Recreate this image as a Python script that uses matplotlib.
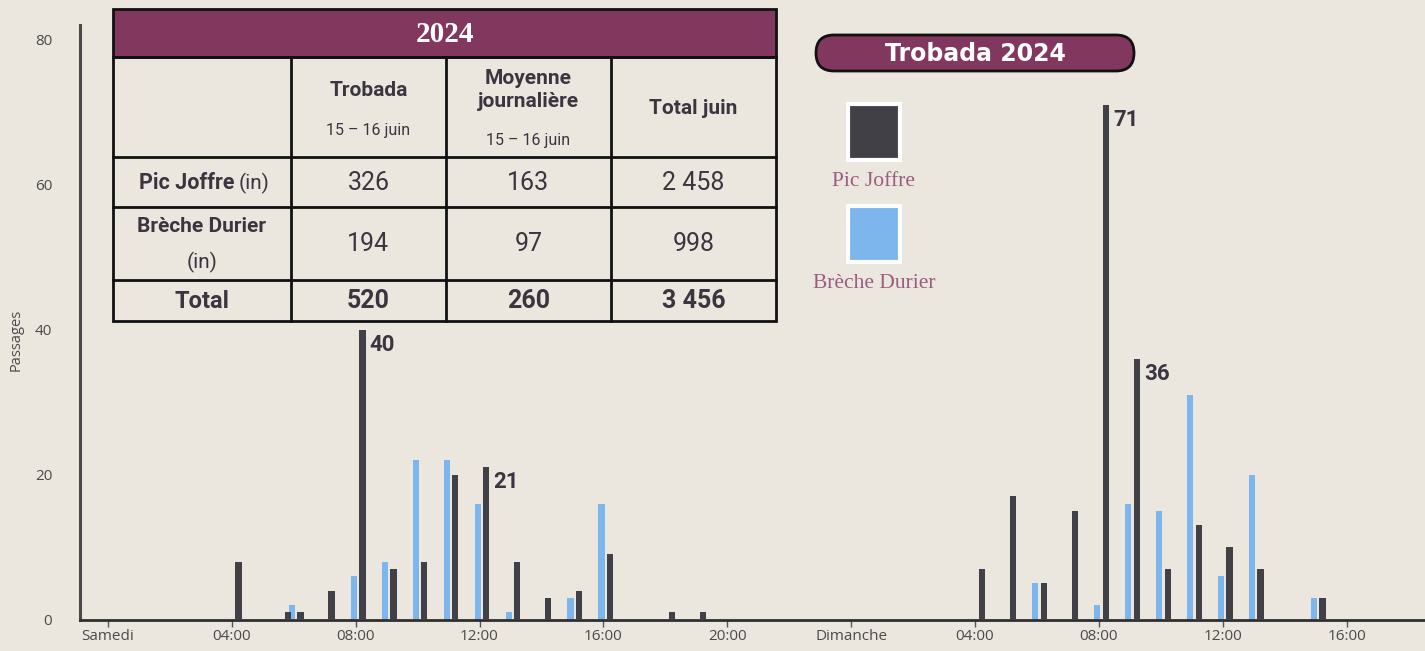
import matplotlib.pyplot as plt
from matplotlib.patches import Rectangle, FancyBboxPatch

# passages per hour, hours counted from Saturday 00:00
joffre_hours = [4, 5.6, 6, 7, 8, 9, 10, 11, 12, 13, 14, 15, 16, 18, 19,
                28, 29, 30, 31, 32, 33, 34, 35, 36, 37, 39]
joffre_values = [8, 1, 1, 4, 40, 7, 8, 20, 21, 8, 3, 4, 9, 1, 1,
                 7, 17, 5, 15, 71, 36, 7, 13, 10, 7, 3]
durier_hours = [6, 8, 9, 10, 11, 12, 13, 15, 16, 30, 32, 33, 34, 35, 36, 37, 39]
durier_values = [2, 6, 8, 22, 22, 16, 1, 3, 16, 5, 2, 16, 15, 31, 6, 20, 3]
peak_hours = [8, 12, 32, 33]

tick_hours = [0, 4, 8, 12, 16, 20, 24, 28, 32, 36, 40]
tick_labels = ["Samedi", "04:00", "08:00", "12:00", "16:00", "20:00",
               "Dimanche", "04:00", "08:00", "12:00", "16:00"]

table_title = "2024"
col_heads = ["Trobada", "Moyenne\njournalière", "Total juin"]
col_subs = ["15 – 16 juin", "15 – 16 juin", ""]
row_heads = ["Pic Joffre", "Brèche Durier", "Total"]
cells = [["326", "163", "2 458"],
         ["194", "97", "998"],
         ["520", "260", "3 456"]]

legend_title = "Trobada 2024"
series_names = ["Pic Joffre", "Brèche Durier"]

dark = "#414046"
blue = "#7db6ec"
plum = "#82375e"
paper = "#ebe7de"
ink = "#3b3540"

W, H = 1425, 651
fig = plt.figure(figsize=(W / 100, H / 100), dpi=100, facecolor=paper)

ax = fig.add_axes([80 / W, 31.5 / H, 1 - 80 / W, (619.5 - 25) / H])
ax.set_facecolor(paper)
ax.bar([h + 0.22 for h in joffre_hours], joffre_values, width=0.2, color=dark, zorder=3)
ax.bar([h - 0.06 for h in durier_hours], durier_values, width=0.2, color=blue, zorder=2)

for h, v in zip(joffre_hours, joffre_values):
    if h in peak_hours:
        ax.annotate(str(v), (h + 0.32, v), xytext=(3, -3), textcoords="offset points",
                    ha="left", va="top", fontsize=16, fontweight="bold",
                    family="Roboto", color=ink)

ax.set_xlim(-0.9, 42.53)
ax.set_ylim(0, 82)
ax.set_xticks(tick_hours)
ax.set_xticklabels(tick_labels)
ax.set_yticks([0, 20, 40, 60, 80])
ax.tick_params(axis="x", length=5, width=1, color="#555555", pad=2,
               labelsize=11, labelcolor="#4a4a4a")
ax.tick_params(axis="y", length=0, pad=20, labelsize=11, labelcolor="#4a4a4a")
for lab in ax.get_xticklabels() + ax.get_yticklabels():
    lab.set_family("Open Sans")
ax.set_ylabel("Passages", family="Open Sans", fontsize=10.5, color="#4a4a4a")
ax.yaxis.set_label_coords(-56 / (W - 80), (619.5 - 340) / (619.5 - 25))
for s in ["top", "right"]:
    ax.spines[s].set_visible(False)
ax.spines["left"].set_color("#4a4a4a")
ax.spines["left"].set_linewidth(2.2)
ax.spines["bottom"].set_color("#2f2f2f")
ax.spines["bottom"].set_linewidth(2)

# overlay in pixel coordinates for the table and the legend
ov = fig.add_axes([0, 0, 1, 1], zorder=5)
ov.set_xlim(0, W)
ov.set_ylim(H, 0)
ov.axis("off")

xs = [113, 291, 446, 611, 776]
ys = [9, 57, 157, 207, 280, 321]
ov.add_patch(Rectangle((xs[0], ys[0]), xs[-1] - xs[0], ys[1] - ys[0],
                       facecolor=plum, edgecolor="#111111", lw=2))
ov.add_patch(Rectangle((xs[0], ys[1]), xs[-1] - xs[0], ys[-1] - ys[1],
                       facecolor="none", edgecolor="#111111", lw=2))
for x in xs[1:-1]:
    ov.plot([x, x], [ys[1], ys[-1]], color="#111111", lw=2)
for y in ys[2:-1]:
    ov.plot([xs[0], xs[-1]], [y, y], color="#111111", lw=2)

ov.text((xs[0] + xs[-1]) / 2, 35, table_title, ha="center", va="center",
        fontsize=21, fontweight="bold", family="Liberation Serif", color="white")

head_y = [90, 90, 108]
sub_y = [131, 140, None]
for i, (name, sub) in enumerate(zip(col_heads, col_subs)):
    cx = (xs[i + 1] + xs[i + 2]) / 2
    ov.text(cx, head_y[i], name, ha="center", va="center", fontsize=15, fontweight="bold",
            family="Roboto", color=ink, linespacing=1.3)
    if sub:
        ov.text(cx, sub_y[i], sub, ha="center", va="center", fontsize=11.5,
                family="Roboto", color=ink)

cx0 = (xs[0] + xs[1]) / 2
ov.text(235, 183, row_heads[0], ha="right", va="center", fontsize=15.5,
        fontweight="bold", family="Roboto", color=ink)
ov.text(239, 183, "(in)", ha="left", va="center", fontsize=15,
        family="Roboto", color=ink)
ov.text(cx0, 227, row_heads[1], ha="center", va="center", fontsize=15,
        fontweight="bold", family="Roboto", color=ink)
ov.text(cx0, 262, "(in)", ha="center", va="center", fontsize=15,
        family="Roboto", color=ink)
ov.text(cx0, 301, row_heads[2], ha="center", va="center", fontsize=17,
        fontweight="bold", family="Roboto", color=ink)

row_y = [183, 244, 301]
for r, row in enumerate(cells):
    for c, val in enumerate(row):
        cx = (xs[c + 1] + xs[c + 2]) / 2
        ov.text(cx, row_y[r], val, ha="center", va="center", fontsize=18,
                fontweight="bold" if r == 2 else "normal",
                family="Roboto", color=ink)

# legend
ov.add_patch(FancyBboxPatch((816, 35), 318, 36, boxstyle="round,pad=0,rounding_size=18",
                            facecolor=plum, edgecolor="#111111", lw=2))
ov.text(975, 54, legend_title, ha="center", va="center", fontsize=17,
        fontweight="bold", family="DejaVu Sans", color="white")
for (y0, col, name, ty) in [(104, dark, series_names[0], 182),
                            (206, blue, series_names[1], 283)]:
    ov.add_patch(Rectangle((848, y0), 52, 56, facecolor=col, edgecolor="white", lw=3))
    ov.text(874, ty, name, ha="center", va="center", fontsize=15.5,
            family="Liberation Serif", color="#9b5c80")

fig.savefig("out.png", dpi=100, facecolor=paper)
